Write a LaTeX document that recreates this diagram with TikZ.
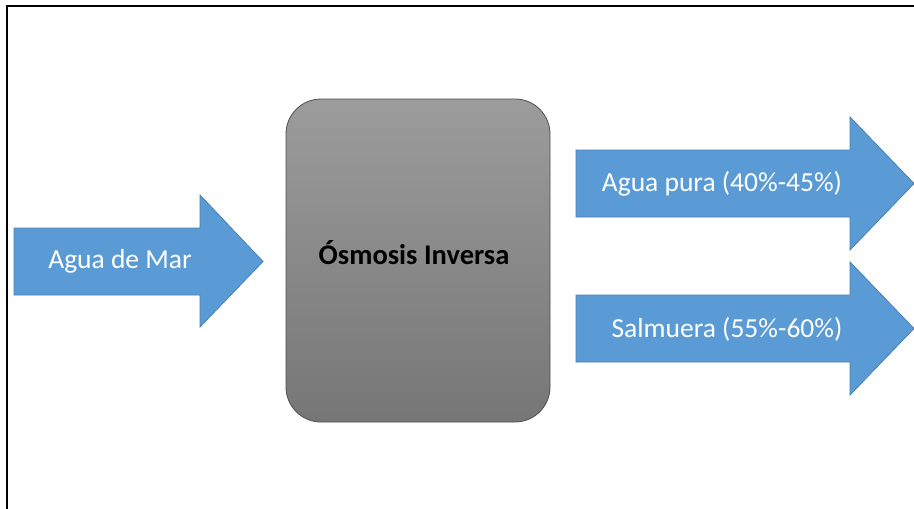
\documentclass[tikz,border=0pt]{standalone}
\usepackage{fontspec}
\setmainfont{Carlito}
\definecolor{arrowblue}{HTML}{5B9BD5}
\definecolor{arrowedge}{HTML}{4A7FB5}
\definecolor{boxtop}{HTML}{9C9C9C}
\definecolor{boxbot}{HTML}{767676}
\definecolor{boxedge}{HTML}{505050}
\tikzset{
  blockarrow/.style={fill=arrowblue, draw=arrowedge, line width=0.8pt, line join=miter},
  arrowtext/.style={text=white, font=\fontsize{27.5}{32}\selectfont, inner sep=0pt},
  boxtext/.style={text=black, font=\bfseries\fontsize{28.5}{33}\selectfont, inner sep=0pt},
  frame/.style={line width=2pt, draw=black}
}
\begin{document}
\begin{tikzpicture}[x=1pt,y=-1pt]
\useasboundingbox (0,0) rectangle (914,509);
\fill[white] (0,0) rectangle (914,509);
% frame (top and left edges)
\draw[frame] (6.5,509) -- (6.5,5.5) -- (914,5.5);
% input arrow
\draw[blockarrow] (14,228) -- (200,228) -- (200,195) -- (263,261.5) -- (200,327) -- (200,295) -- (14,295) -- cycle;
% central box
\node[draw=boxedge, line width=0.8pt, rounded corners=35pt, minimum width=264pt, minimum height=323pt,
      top color=boxtop, bottom color=boxbot, inner sep=0pt] (box) at (418,260.5) {};
% output arrows
\draw[blockarrow] (576,150) -- (850,150) -- (850,117) -- (914,183.5) -- (850,250) -- (850,217) -- (576,217) -- cycle;
\draw[blockarrow] (576,295) -- (850,295) -- (850,262) -- (914,328.5) -- (850,395) -- (850,362) -- (576,362) -- cycle;
% texts
\node[arrowtext] (tin) at (120,261) {Agua de Mar};
\node[boxtext] (tbox) at (414,253) {Ósmosis Inversa};
\node[arrowtext] (tpure) at (722,184) {Agua pura (40\%-45\%)};
\node[arrowtext] (tbrine) at (727,329) {Salmuera (55\%-60\%)};
\end{tikzpicture}
\end{document}
